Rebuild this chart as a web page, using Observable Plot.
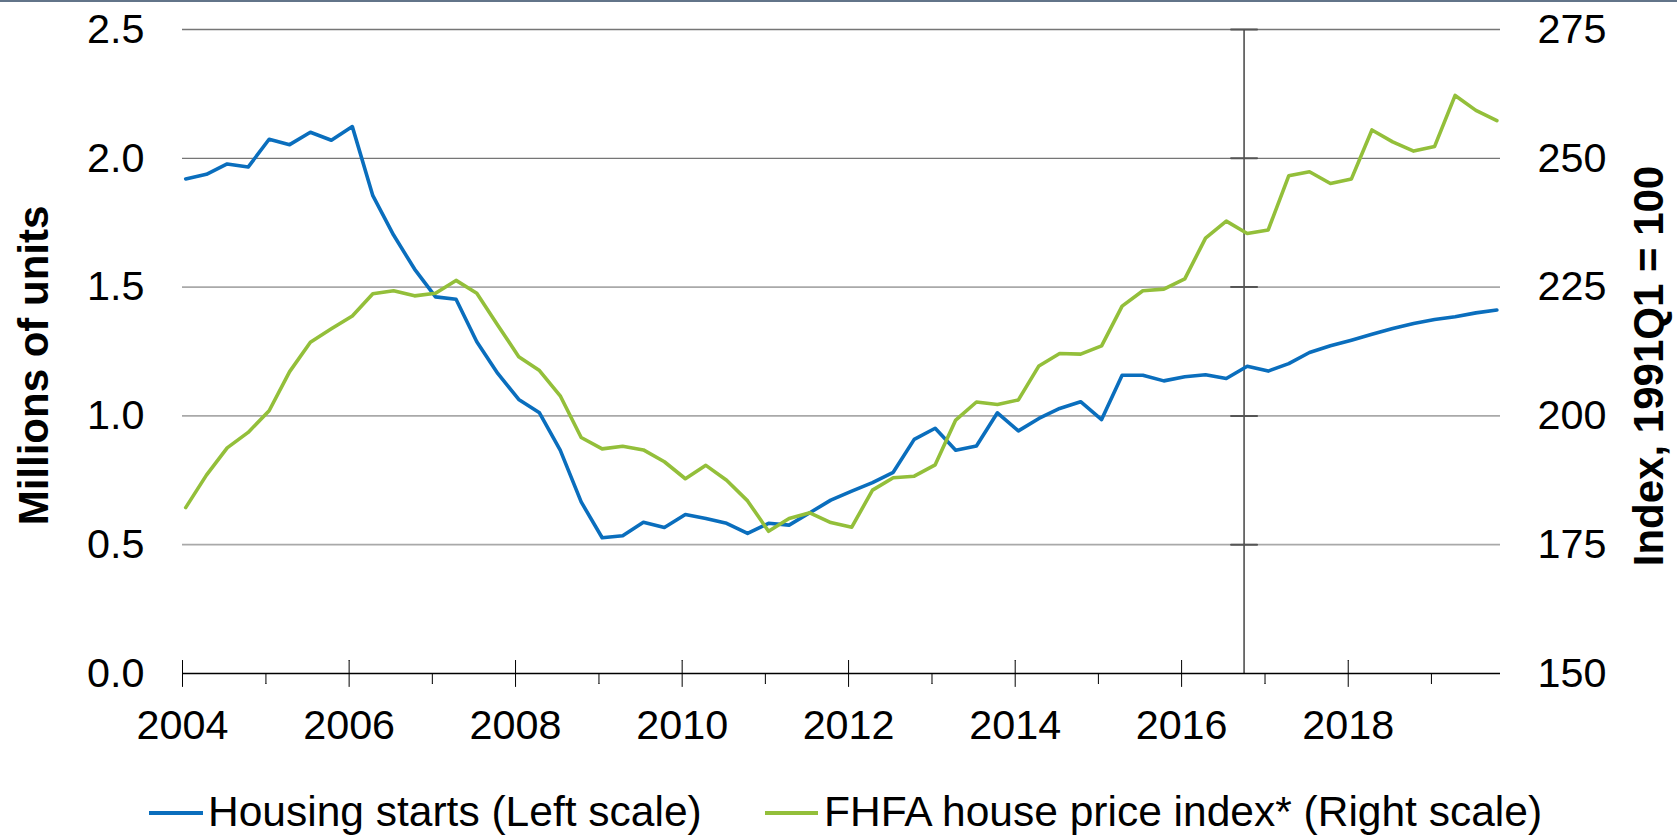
<!DOCTYPE html>
<html>
<head>
<meta charset="utf-8">
<script src="https://cdn.jsdelivr.net/npm/d3@7"></script>
<script src="https://cdn.jsdelivr.net/npm/@observablehq/plot@0.6"></script>
<style>
  html, body { margin: 0; padding: 0; background: #fff; }
  #wrap { position: relative; width: 1677px; height: 836px; overflow: hidden; font-family: "Liberation Sans", Arial, sans-serif; }
  #topline { position: absolute; left: 0; top: 0; width: 1677px; height: 2px; background: #627489; }
  .sw { position: absolute; height: 4px; }
  .lt { position: absolute; font-size: 42.5px; line-height: 1; color: #000; white-space: nowrap; }
</style>
</head>
<body>
<div id="wrap">
  <div id="chart"></div>
  <div id="topline"></div>
  <div id="legend"></div>
</div>
<script>
// ---- data ----
const startYear = 2004;
const quarterCount = 64; // 2004Q1 .. 2019Q4

const housingStarts = [
  1.920, 1.938, 1.978, 1.966, 2.074, 2.053, 2.101, 2.070,
  2.123, 1.855, 1.702, 1.570, 1.462, 1.453, 1.288, 1.165,
  1.064, 1.012, 0.867, 0.666, 0.527, 0.535, 0.587, 0.567,
  0.617, 0.602, 0.583, 0.544, 0.583, 0.576, 0.624, 0.673,
  0.708, 0.741, 0.781, 0.909, 0.952, 0.867, 0.883, 1.012,
  0.942, 0.990, 1.029, 1.055, 0.986, 1.158, 1.158, 1.136,
  1.152, 1.160, 1.145, 1.193, 1.174, 1.203, 1.246, 1.272,
  1.294, 1.317, 1.339, 1.359, 1.374, 1.385, 1.400, 1.411
];

const fhfaIndex = [
  182.2, 188.5, 193.8, 196.8, 201.0, 208.6, 214.3, 216.9,
  219.4, 223.7, 224.3, 223.3, 223.8, 226.3, 223.8, 217.6,
  211.5, 208.8, 203.9, 195.8, 193.6, 194.1, 193.4, 191.1,
  187.8, 190.4, 187.5, 183.5, 177.6, 180.1, 181.2, 179.3,
  178.4, 185.6, 188.0, 188.3, 190.5, 199.2, 202.7, 202.2,
  203.1, 209.7, 212.1, 212.0, 213.6, 221.3, 224.3, 224.6,
  226.6, 234.5, 237.8, 235.4, 236.1, 246.6, 247.4, 245.1,
  246.0, 255.5, 253.2, 251.4, 252.3, 262.2, 259.3, 257.3
];

const leftTicks = [0.0, 0.5, 1.0, 1.5, 2.0, 2.5];
const rightTicks = [150, 175, 200, 225, 250, 275];
const majorYears = [2004, 2006, 2008, 2010, 2012, 2014, 2016, 2018];
const minorYears = [2005, 2007, 2009, 2011, 2013, 2015, 2017, 2019];
const markerDate = new Date(Date.UTC(2016, 9, 1)); // 2016Q4 vertical line
const axisEnd = new Date(Date.UTC(2019, 9, 31));

const leftTitle = "Millions of units";
const rightTitle = "Index, 1991Q1 = 100";
const series = [
  {name: "Housing starts (Left scale)", color: "#0A6EBD"},
  {name: "FHFA house price index* (Right scale)", color: "#93BF3A"}
];

// ---- build table ----
const lMin = leftTicks[0], lMax = leftTicks[leftTicks.length - 1];
const rMin = rightTicks[0], rMax = rightTicks[rightTicks.length - 1];
const toLeft = v => lMin + (v - rMin) / (rMax - rMin) * (lMax - lMin);
const toRight = v => rMin + (v - lMin) / (lMax - lMin) * (rMax - rMin);

const quarterDate = i => new Date(Date.UTC(startYear + Math.floor(i / 4), (i % 4) * 3, 15));
const rows = d3.range(quarterCount).map(i => ({
  date: quarterDate(i),
  starts: housingStarts[i],
  hpi: toLeft(fhfaIndex[i])
}));
const yd = y => new Date(Date.UTC(y, 0, 1));

const fontPx = 41.3;

const chart = Plot.plot({
  width: 1677,
  height: 770,
  marginTop: 29,
  marginBottom: 97,
  marginLeft: 182,
  marginRight: 177,
  style: {fontFamily: '"Liberation Sans", Arial, sans-serif', fontSize: fontPx + "px", color: "#000", background: "transparent", overflow: "visible"},
  x: {type: "utc", domain: [yd(startYear), axisEnd]},
  y: {domain: [lMin, lMax]},
  marks: [
    // gridlines
    Plot.ruleY(leftTicks.filter(d => d > 0), {y: d => d, stroke: d => d >= 2 ? "#767676" : "#a9a9a9", strokeWidth: d => d >= 2 ? 1.3 : 1.7}),
    // vertical marker line with its small cross ticks
    Plot.ruleX([markerDate], {x: d => d, y1: lMin, y2: lMax, stroke: "#000", strokeWidth: 1.1}),
    Plot.vector(leftTicks.filter(d => d > 0), {x: () => markerDate, y: d => d, length: 26, rotate: 90, anchor: "middle", r: 0, stroke: "#555", strokeWidth: 2}),
    // x axis line & ticks
    Plot.ruleY([lMin], {stroke: "#000", strokeWidth: 1.4}),
    Plot.vector(majorYears, {x: d => yd(d), y: () => lMin, length: 26, rotate: 0, anchor: "middle", r: 0, stroke: "#000", strokeWidth: 1}),
    Plot.vector(minorYears, {x: d => yd(d), y: () => lMin, length: 10, rotate: 180, anchor: "start", r: 0, stroke: "#000", strokeWidth: 1}),
    // axes
    Plot.axisX(majorYears.map(yd), {anchor: "bottom", tickSize: 0, tickPadding: 36, tickFormat: d3.utcFormat("%Y"), label: null, fill: "#000"}),
    Plot.axisY(leftTicks, {anchor: "left", tickSize: 0, tickPadding: 38, tickFormat: d => d.toFixed(1), label: null, fill: "#000"}),
    Plot.axisY(leftTicks, {anchor: "right", tickSize: 0, tickPadding: 37, tickFormat: d => String(Math.round(toRight(d))), label: null, fill: "#000"}),
    // series
    Plot.line(rows, {x: "date", y: "starts", stroke: series[0].color, strokeWidth: 3.6, strokeLinejoin: "round"}),
    Plot.line(rows, {x: "date", y: "hpi", stroke: series[1].color, strokeWidth: 3.6, strokeLinejoin: "round"}),
    // axis titles
    Plot.text([leftTitle], {text: d => d, frameAnchor: "left", rotate: -90, dx: -147.5, dy: 14, fontWeight: "bold", fontSize: 42, fill: "#000", textAnchor: "middle", lineAnchor: "middle"}),
    Plot.text([rightTitle], {text: d => d, frameAnchor: "right", rotate: -90, dx: 149.5, dy: 14.5, fontWeight: "bold", fontSize: 42, fill: "#000", textAnchor: "middle", lineAnchor: "middle"})
  ]
});
document.getElementById("chart").appendChild(chart);

// ---- legend ----
const legend = document.getElementById("legend");
const legendPos = [{sw: 149, swW: 54, tx: 208}, {sw: 765, swW: 53, tx: 824}];
series.forEach((s, i) => {
  const p = legendPos[i];
  const sw = document.createElement("div");
  sw.className = "sw";
  sw.style.left = p.sw + "px";
  sw.style.top = "810.7px";
  sw.style.width = p.swW + "px";
  sw.style.background = s.color;
  legend.appendChild(sw);
  const t = document.createElement("div");
  t.className = "lt";
  t.style.left = p.tx + "px";
  t.style.top = "791.3px";
  t.textContent = s.name;
  legend.appendChild(t);
});
</script>
</body>
</html>
